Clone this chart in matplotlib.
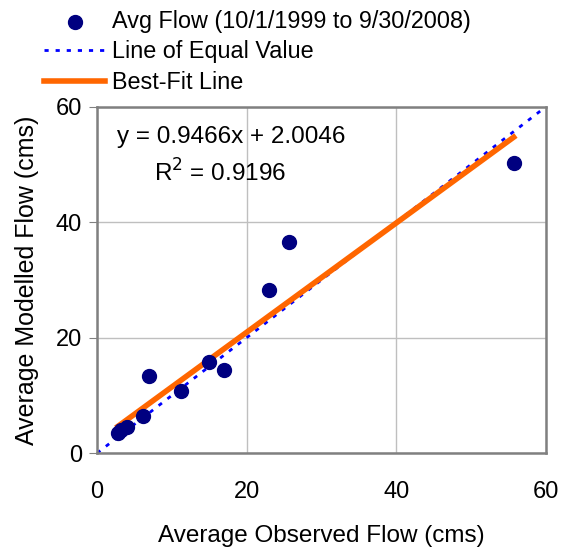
import matplotlib.pyplot as plt
import numpy as np

plt.rcParams["font.family"] = ["Liberation Sans", "DejaVu Sans"]

# observed vs modelled average flows (cms)
observed = [2.8, 3.2, 4.0, 6.1, 7.0, 11.2, 15.0, 17.0, 23.0, 25.7, 55.7]
modelled = [3.5, 4.0, 4.5, 6.4, 13.3, 10.7, 15.8, 14.4, 28.2, 36.6, 50.3]
slope, intercept = 0.9466, 2.0046
fit_x = [2.8, 55.7]
equal_x = [0, 60]

fig = plt.figure(figsize=(5.61, 5.56), dpi=100)
ax = fig.add_axes([0.173, 0.185, 0.800, 0.623])

eq, = ax.plot(equal_x, equal_x, linestyle=(0, (1.5, 2.5)), color="#0000FF", lw=2, zorder=2)
fit, = ax.plot(fit_x, [slope * v + intercept for v in fit_x], color="#FF6600", lw=4, zorder=3)
pts = ax.scatter(observed, modelled, s=100, color="#000080", zorder=4)

ax.set_xlim(0, 60)
ax.set_ylim(0, 60)
ax.set_xticks([0, 20, 40, 60])
ax.set_yticks([0, 20, 40, 60])
ax.tick_params(labelsize=17, direction="out", length=6, color="#808080")
ax.tick_params(axis="x", length=0, pad=20)
ax.tick_params(axis="y", pad=5)
ax.grid(color="#bfbfbf", lw=1)
ax.set_axisbelow(True)
for side in ax.spines.values():
    side.set_color("#808080")
    side.set_linewidth(1.8)

ax.set_xlabel("Average Observed Flow (cms)", fontsize=17.5, labelpad=16)
ax.set_ylabel("Average Modelled Flow (cms)", fontsize=18, labelpad=12)

ax.text(0.045, 0.912, "y = 0.9466x + 2.0046", transform=ax.transAxes,
        fontsize=17.5, va="center", ha="left")
ax.text(0.275, 0.81, "R$^2$ = 0.9196", transform=ax.transAxes,
        fontsize=17.5, va="center", ha="center")

fig.legend([pts, eq, fit],
           ["Avg Flow (10/1/1999 to 9/30/2008)", "Line of Equal Value", "Best-Fit Line"],
           loc="upper left", bbox_to_anchor=(0.05, 1.012), frameon=False,
           fontsize=16.8, handlelength=2.6, handletextpad=0.3, labelspacing=0.33,
           borderpad=0.2)

fig.savefig("out.png", dpi=100)
